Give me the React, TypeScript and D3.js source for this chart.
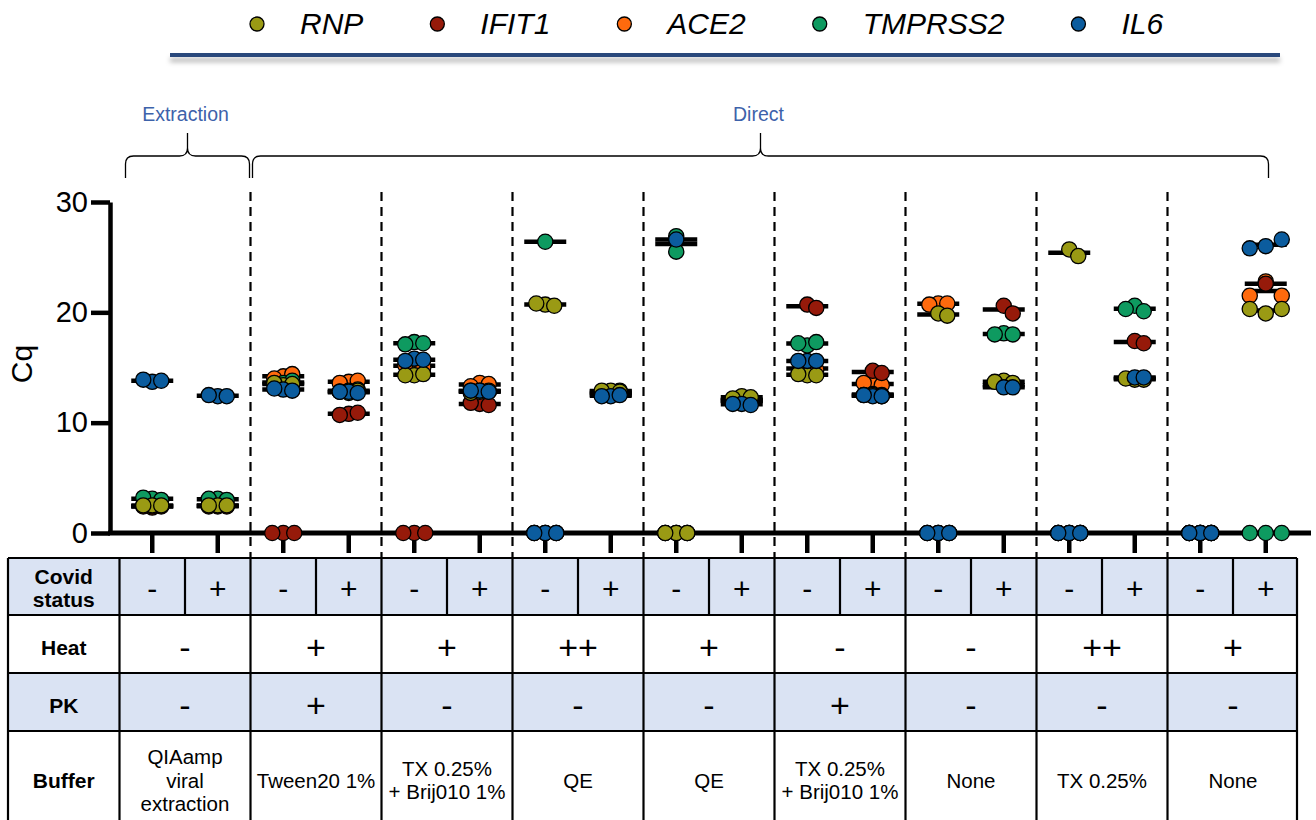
import React, { useEffect, useRef } from 'react';
import * as d3 from 'd3';

const W = 1316;
const H = 820;
const FONT = "'Liberation Sans', Arial, Helvetica, sans-serif";

// ---------------- data ----------------
const geneNames = ['RNP', 'IFIT1', 'ACE2', 'TMPRSS2', 'IL6'];
const geneColors = ['#9a9a14', '#961a0a', '#ff6a0d', '#0e9a60', '#0b5c9e'];
const drawOrder = ['ACE2', 'IFIT1', 'TMPRSS2', 'RNP', 'IL6'];

const covidStatus = ['-', '+', '-', '+', '-', '+', '-', '+', '-', '+', '-', '+', '-', '+', '-', '+', '-', '+'];
const groupHeat = ['-', '+', '+', '++', '+', '-', '-', '++', '+'];
const groupPK = ['-', '+', '-', '-', '-', '+', '-', '-', '-'];
const groupBuffer = [
  ['QIAamp', 'viral', 'extraction'],
  ['Tween20 1%'],
  ['TX 0.25%', '+ Brij010 1%'],
  ['QE'],
  ['QE'],
  ['TX 0.25%', '+ Brij010 1%'],
  ['None'],
  ['TX 0.25%'],
  ['None'],
];
const rowLabels = [['Covid', 'status'], ['Heat'], ['PK'], ['Buffer']];
const bracketLabels = ['Extraction', 'Direct'];
const yTicks = [0, 10, 20, 30];

// Cq values per category (18 categories), replicates
const RNP = [
  [2.5, 2.5, 2.5], [2.5, 2.5, 2.5], [13.4, 13.5, 13.6], [12.7, 12.9, 12.8],
  [14.3, 14.4, 14.3], [12.8, 12.9, 12.7], [20.7, 20.6, 20.8], [12.9, 12.8, 12.9],
  [0, 0, 0], [12.4, 12.3, 12.2], [14.3, 14.3, 14.4], [12.5, 12.4, 12.5],
  [19.9, 19.7], [13.8, 13.6, 13.7], [25.7, 25.1], [13.9, 13.9, 14.0],
  [0, 0, 0], [19.9, 20.3, 20.3],
];
const IFIT1 = [
  [2.4, 2.5, 2.4], [2.5, 2.4, 2.5], [0, 0, 0], [10.8, 10.9, 10.7],
  [0, 0, 0], [11.7, 11.6, 11.8], [0, 0, 0], [12.5, 12.6, 12.5],
  [0, 0, 0], [12.0, 11.9, 12.0], [20.7, 20.4], [14.7, 14.5],
  [0, 0, 0], [20.6, 19.9], [0, 0, 0], [17.4, 17.2],
  [0, 0, 0], [22.6],
];
const ACE2 = [
  [2.3, 2.4, 2.5], [2.4, 2.5, 2.4], [14.2, 14.4, 14.0], [13.7, 13.8, 13.6],
  [15.3, 15.0, 15.2], [13.6, 13.5, 13.3], [0, 0, 0], [12.7, 12.8, 12.6],
  [0, 0, 0], [12.0, 12.1, 11.9], [15.0, 14.8], [13.5, 13.4, 13.6],
  [20.8, 20.8, 20.7], [13.4], [0, 0, 0], [14.0],
  [0, 0, 0], [22.8, 21.5, 21.5],
];
const TMPRSS2 = [
  [3.1, 3.0, 3.2], [3.1, 3.0, 3.1], [13.6, 13.8, 13.5], [12.9, 13.0, 12.8],
  [17.3, 17.2, 17.1], [12.9, 12.8, 12.9], [26.4], [12.8, 12.9, 12.8],
  [26.9, 25.5], [12.1, 12.0, 12.1], [17.0, 17.3, 17.2], [12.6, 12.5],
  [0, 0, 0], [18.1, 18.0, 18.0], [0, 0, 0], [20.6, 20.1, 20.3],
  [0, 0, 0], [0, 0, 0],
];
const IL6 = [
  [13.7, 13.8, 13.9], [12.4, 12.4, 12.5], [13.0, 12.9, 13.1], [12.8, 12.7, 12.8],
  [15.8, 15.7, 15.6], [12.9, 12.8, 12.9], [0, 0, 0], [12.4, 12.5, 12.4],
  [26.6], [11.7, 11.6, 11.7], [15.6, 15.6, 15.6], [12.4, 12.4, 12.5],
  [0, 0, 0], [13.2, 13.2], [0, 0, 0], [14.1, 14.1],
  [0, 0, 0], [26.0, 26.6, 25.8],
];
const geneValues: Record<string, number[][]> = { RNP, IFIT1, ACE2, TMPRSS2, IL6 };

// ---------------- layout ----------------
const PLOT_LEFT = 119.5;
const PLOT_RIGHT = 1298.5;
const swarmGap = [9, 9, 9, 9, 9, 9, 9, 9, 9, 9, 9, 9, 9, 9, 9, 9, 9, 16];
const ZERO_GAP = 11;

// simple column swarm: offsets on a grid of `gap`, nearest to centre without collision
function swarm(values: number[], yScale: (v: number) => number, gap: number) {
  const placed: { dx: number; y: number; v: number }[] = [];
  values.forEach((v) => {
    const yy = yScale(v);
    let dx = 0;
    for (let k = 0; k < 40; k++) {
      const cand = k === 0 ? 0 : (k % 2 === 1 ? 1 : -1) * Math.ceil(k / 2) * gap;
      if (placed.every((p) => Math.hypot(p.dx - cand, p.y - yy) >= gap - 0.01)) {
        dx = cand;
        break;
      }
    }
    placed.push({ dx, y: yy, v });
  });
  return placed;
}

function bracePath(x0: number, x1: number, xc: number, yTop: number, yMid: number, yEnd: number) {
  const r = 8;
  return `M${x0},${yEnd} L${x0},${yMid + r} Q${x0},${yMid} ${x0 + r},${yMid} L${xc - r},${yMid} Q${xc},${yMid} ${xc},${yMid - r} L${xc},${yTop} M${xc},${yMid - r} Q${xc},${yMid} ${xc + r},${yMid} L${x1 - r},${yMid} Q${x1},${yMid} ${x1},${yMid + r} L${x1},${yEnd}`;
}

export default function App() {
  const ref = useRef<SVGSVGElement>(null);

  useEffect(() => {
    const svg = d3.select(ref.current);
    svg.selectAll('*').remove();

    const x = d3.scaleBand<number>().domain(d3.range(covidStatus.length)).range([PLOT_LEFT, PLOT_RIGHT]);
    const gx = d3.scaleBand<number>().domain(d3.range(groupHeat.length)).range([PLOT_LEFT, PLOT_RIGHT]);
    const y = d3.scaleLinear().domain([0, 30]).range([533, 202]);
    const cx = (i: number) => (x(i) as number) + x.bandwidth() / 2;

    const defs = svg.append('defs');
    const f = defs.append('filter').attr('id', 'shadow').attr('filterUnits', 'userSpaceOnUse')
      .attr('x', 150).attr('y', 40).attr('width', 1160).attr('height', 40);
    f.append('feDropShadow').attr('dx', 0).attr('dy', 5).attr('stdDeviation', 2.5).attr('flood-color', '#000').attr('flood-opacity', 0.3);

    // ---- legend ----
    const leg = svg.append('g');
    let lx = 257;
    geneNames.forEach((g, i) => {
      leg.append('circle').attr('cx', lx).attr('cy', 24).attr('r', 7).attr('fill', geneColors[i]).attr('stroke', '#000').attr('stroke-width', 1.3);
      const t = leg.append('text').attr('x', lx + 43).attr('y', 34).attr('font-family', FONT).attr('font-style', 'italic')
        .attr('font-size', 30).attr('fill', '#000').text(g);
      const w = (t.node() as SVGTextElement).getComputedTextLength();
      lx = lx + 43 + w + 74;
    });
    svg.append('rect').attr('x', 170).attr('y', 53).attr('width', 1110).attr('height', 4)
      .attr('fill', '#2c4a7b').attr('filter', 'url(#shadow)');

    // ---- brackets ----
    const brackets = [
      { label: bracketLabels[0], x0: (gx(0) as number) + 6, x1: (gx(0) as number) + gx.bandwidth() - 1 },
      { label: bracketLabels[1], x0: (gx(1) as number) + 2, x1: (gx(8) as number) + gx.bandwidth() - 30 },
    ];
    brackets.forEach((b) => {
      const xc = (b.x0 + b.x1) / 2;
      svg.append('path').attr('d', bracePath(b.x0, b.x1, xc, 133, 156, 178)).attr('fill', 'none').attr('stroke', '#000').attr('stroke-width', 1.3);
      svg.append('text').attr('x', xc - 2).attr('y', 121).attr('text-anchor', 'middle').attr('font-family', FONT).attr('font-size', 19.5)
        .attr('fill', '#3d62aa').text(b.label);
    });

    // ---- group dashed separators ----
    d3.range(1, groupHeat.length).forEach((g) => {
      const xx = gx(g) as number;
      svg.append('line').attr('x1', xx).attr('x2', xx).attr('y1', 192).attr('y2', 558)
        .attr('stroke', '#000').attr('stroke-width', 2.2).attr('stroke-dasharray', '9,6');
    });

    // ---- table ----
    const rowTops = [558, 615, 673, 731, 860];
    const tLeft = 8;
    const tRight = PLOT_RIGHT - 1.5;
    const tbl = svg.append('g');
    [0, 2].forEach((r) => {
      tbl.append('rect').attr('x', tLeft).attr('y', rowTops[r]).attr('width', tRight - tLeft).attr('height', rowTops[r + 1] - rowTops[r]).attr('fill', '#dae3f3');
    });
    rowTops.slice(0, 4).forEach((ry) => {
      tbl.append('line').attr('x1', tLeft).attr('x2', tRight).attr('y1', ry).attr('y2', ry).attr('stroke', '#000').attr('stroke-width', 2.2);
    });
    [tLeft, PLOT_LEFT, ...d3.range(1, groupHeat.length).map((g) => gx(g) as number), tRight].forEach((xx) => {
      tbl.append('line').attr('x1', xx).attr('x2', xx).attr('y1', rowTops[0]).attr('y2', rowTops[4]).attr('stroke', '#000').attr('stroke-width', 2.2);
    });
    d3.range(groupHeat.length).forEach((g) => {
      const xx = (gx(g) as number) + gx.bandwidth() / 2;
      tbl.append('line').attr('x1', xx).attr('x2', xx).attr('y1', rowTops[0]).attr('y2', rowTops[1]).attr('stroke', '#000').attr('stroke-width', 2.2);
    });
    const labelX = (tLeft + PLOT_LEFT) / 2;
    const rowCenters = [588, 647, 705, 780];
    rowLabels.forEach((lines, r) => {
      lines.forEach((ln, k) => {
        tbl.append('text').attr('x', labelX).attr('y', rowCenters[r] + (k - (lines.length - 1) / 2) * 23)
          .attr('dominant-baseline', 'central').attr('text-anchor', 'middle').attr('font-family', FONT)
          .attr('font-weight', 'bold').attr('font-size', 21).text(ln);
      });
    });
    covidStatus.forEach((s, i) => {
      tbl.append('text').attr('x', cx(i)).attr('y', rowCenters[0]).attr('dominant-baseline', 'central').attr('text-anchor', 'middle')
        .attr('font-family', FONT).attr('font-size', 30).text(s);
    });
    const gcx = (g: number) => (gx(g) as number) + gx.bandwidth() / 2;
    groupHeat.forEach((s, g) => {
      tbl.append('text').attr('x', gcx(g)).attr('y', rowCenters[1]).attr('dominant-baseline', 'central').attr('text-anchor', 'middle')
        .attr('font-family', FONT).attr('font-size', 34).text(s);
    });
    groupPK.forEach((s, g) => {
      tbl.append('text').attr('x', gcx(g)).attr('y', rowCenters[2]).attr('dominant-baseline', 'central').attr('text-anchor', 'middle')
        .attr('font-family', FONT).attr('font-size', 34).text(s);
    });
    groupBuffer.forEach((lines, g) => {
      lines.forEach((ln, k) => {
        tbl.append('text').attr('x', gcx(g)).attr('y', rowCenters[3] + (k - (lines.length - 1) / 2) * 23.3)
          .attr('dominant-baseline', 'central').attr('text-anchor', 'middle').attr('font-family', FONT)
          .attr('font-size', 20.5).text(ln);
      });
    });

    // ---- axes ----
    const yAxis = svg.append('g').attr('transform', 'translate(110,0)')
      .call(d3.axisLeft(y).tickValues(yTicks).tickSize(19).tickSizeOuter(0).tickPadding(3).tickFormat(d3.format('d')));
    yAxis.select('.domain').attr('stroke-width', 4.5).attr('stroke', '#000');
    yAxis.selectAll('.tick line').attr('stroke-width', 4.5).attr('stroke', '#000');
    yAxis.selectAll('.tick text').attr('font-family', FONT).attr('font-size', 29).attr('fill', '#000');

    svg.append('text').attr('transform', 'translate(32,364) rotate(-90)').attr('text-anchor', 'middle')
      .attr('font-family', FONT).attr('font-size', 30).text('Cq');

    const xAxis = svg.append('g').attr('transform', `translate(0,${y(0)})`)
      .call(d3.axisBottom(x).tickSize(20).tickSizeOuter(0).tickFormat(() => ''));
    xAxis.select('.domain').remove();
    xAxis.selectAll('.tick line').attr('stroke-width', 4.5).attr('stroke', '#000');
    svg.append('line').attr('x1', 108).attr('x2', 1311).attr('y1', y(0)).attr('y2', y(0)).attr('stroke', '#000').attr('stroke-width', 5);

    // ---- data: mean lines first, then dots ----
    const lines = svg.append('g');
    const pts = svg.append('g');
    drawOrder.forEach((gene) => {
      const color = geneColors[geneNames.indexOf(gene)];
      geneValues[gene].forEach((vals, ci) => {
        const detected = vals.filter((v) => v > 0);
        if (detected.length) {
          const m = d3.mean(detected) as number;
          lines.append('line').attr('x1', cx(ci) - 21).attr('x2', cx(ci) + 21).attr('y1', y(m)).attr('y2', y(m))
            .attr('stroke', '#000').attr('stroke-width', 4.5);
        }
        const gap = detected.length ? swarmGap[ci] : Math.max(ZERO_GAP, swarmGap[ci]);
        const placed = swarm(vals, y, gap);
        placed.forEach((p) => {
          pts.append('circle').attr('cx', cx(ci) + p.dx).attr('cy', p.y).attr('r', 7.6)
            .attr('fill', color).attr('stroke', '#000').attr('stroke-width', 1.3);
        });
      });
    });
  }, []);

  return <svg ref={ref} width={W} height={H} style={{ position: 'absolute', left: 0, top: 0, background: '#fff' }} />;
}
